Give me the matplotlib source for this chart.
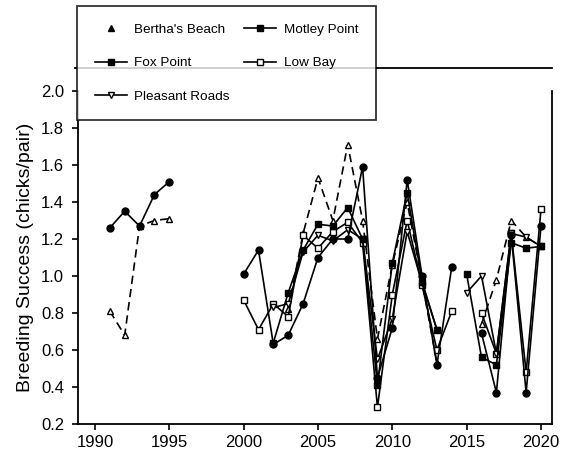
import numpy as np
import matplotlib
matplotlib.use("Agg")
import matplotlib.pyplot as plt
from matplotlib.lines import Line2D

plt.rcParams['font.family'] = ['Liberation Sans', 'DejaVu Sans']

nan = np.nan
years = np.arange(1991, 2021)

# Breeding success (chicks/pair) per colony, 1991-2020 (nan = not surveyed)
berthas_beach = [0.81, 0.68, 1.27, 1.30, 1.31, nan, nan, nan, nan, nan,
                 nan, nan, 0.82, 1.23, 1.53, 1.30, 1.71, 1.30, 0.66, 1.06,
                 1.40, 0.97, 0.53, nan, nan, 0.74, 0.98, 1.30, 1.21, 1.16]
fox_point = [1.26, 1.35, 1.27, 1.44, 1.51, nan, nan, nan, nan, 1.01,
             1.14, 0.63, 0.68, 0.85, 1.10, 1.20, 1.20, 1.59, 0.45, 0.72,
             1.52, 1.00, 0.52, 1.05, nan, 0.69, 0.37, 1.22, 0.37, 1.27]
motley_point = [nan, nan, nan, nan, nan, nan, nan, nan, nan, nan,
                nan, 0.64, 0.91, 1.14, 1.28, 1.27, 1.37, 1.20, 0.41, 1.07,
                1.45, 0.97, 0.71, nan, 1.01, 0.56, 0.52, 1.18, 1.15, 1.16]
low_bay = [nan, nan, nan, nan, nan, nan, nan, nan, nan, 0.87,
           0.71, 0.85, 0.78, 1.22, 1.15, 1.24, 1.29, 1.18, 0.29, 0.90,
           1.30, 0.95, 0.60, 0.81, nan, 0.80, 0.58, 1.23, 0.48, 1.36]
pleasant_roads = [nan, nan, nan, nan, nan, nan, nan, nan, nan, nan,
                  nan, 0.83, 0.85, 1.13, 1.22, 1.19, 1.25, 1.20, 0.55, 0.77,
                  1.24, 0.96, 0.71, nan, 0.91, 1.00, 0.58, 1.23, 1.21, 1.16]

fig = plt.figure(figsize=(5.65, 4.59), dpi=100)
ax = fig.add_axes([78/565, 1 - 424/459, (552 - 78)/565, (424 - 91)/459])

lw = 1.2
ms = 5
ax.plot(years, berthas_beach, color='black', lw=lw, ls=(0, (5, 3)),
        marker='^', ms=ms, mfc='white', mec='black', zorder=3)
ax.plot(years, fox_point, color='black', lw=lw, marker='o', ms=ms,
        mfc='black', mec='black', zorder=4)
ax.plot(years, motley_point, color='black', lw=lw, marker='s', ms=ms,
        mfc='black', mec='black', zorder=4)
ax.plot(years, low_bay, color='black', lw=lw, marker='s', ms=ms,
        mfc='white', mec='black', zorder=3)
ax.plot(years, pleasant_roads, color='black', lw=lw, marker='v', ms=ms,
        mfc='white', mec='black', zorder=3)

ax.set_xlim(1988.86, 2020.74)
ax.set_ylim(0.2, 2.0)
ax.set_xticks(np.arange(1990, 2021, 5))
ax.set_yticks(np.arange(0.2, 2.01, 0.2))
ax.set_yticklabels([f"{v:.1f}" for v in np.arange(0.2, 2.01, 0.2)])
ax.tick_params(direction='out', length=4, width=1.2, labelsize=12)
ax.tick_params(axis='y', pad=6)
ax.tick_params(axis='x', pad=4)
ax.spines['top'].set_visible(False)
for s in ('left', 'right', 'bottom'):
    ax.spines[s].set_linewidth(1.3)
ax.set_ylabel('Breeding Success (chicks/pair)', fontsize=14, labelpad=5)

# frame line across the top of the panel
fig.add_artist(Line2D([75/565, 552/565], [1 - 68/459, 1 - 68/459],
                      transform=fig.transFigure, color='black', lw=1.3, zorder=1))

handles = [
    Line2D([], [], ls='none', marker='^', ms=4, mfc='black', mec='black'),
    Line2D([], [], color='black', lw=lw, marker='s', ms=4, mfc='black', mec='black'),
    Line2D([], [], color='black', lw=lw, marker='v', ms=4, mfc='white', mec='black'),
    Line2D([], [], color='black', lw=lw, marker='s', ms=5, mfc='black', mec='black'),
    Line2D([], [], color='black', lw=lw, marker='s', ms=4, mfc='white', mec='black'),
]
labels = ["Bertha's Beach", 'Fox Point', 'Pleasant Roads', 'Motley Point', 'Low Bay']
leg = fig.legend(handles, labels, ncol=2, loc='upper left',
                 bbox_to_anchor=(77/565, 1 - 6/459), borderaxespad=0,
                 fontsize=9.7, frameon=True, fancybox=False, edgecolor='black',
                 borderpad=1.3, labelspacing=1.55, handlelength=2.4,
                 columnspacing=1.05, handletextpad=0.55)
leg.get_frame().set_linewidth(1.3)
leg.set_zorder(5)

fig.savefig('out.png', dpi=100)
